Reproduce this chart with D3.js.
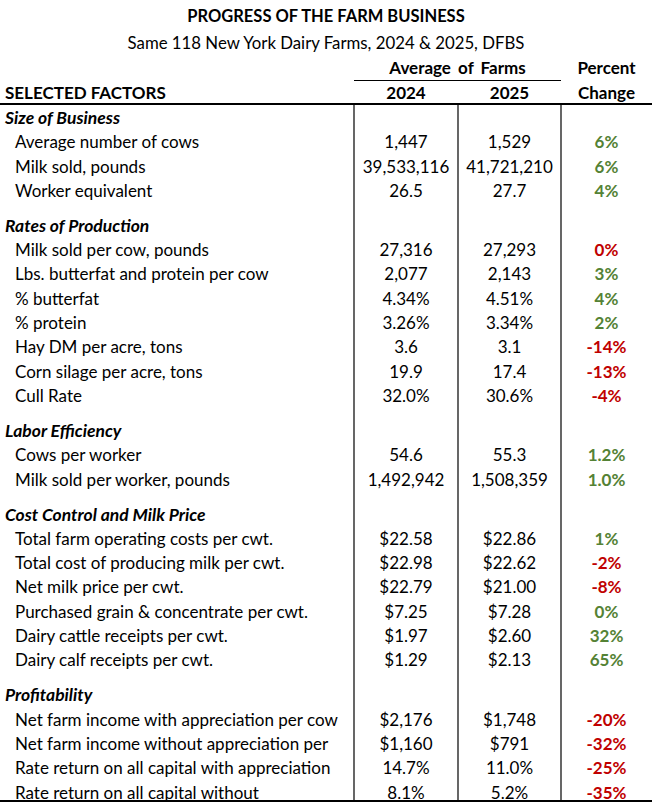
<!DOCTYPE html>
<html>
<head>
<meta charset="utf-8">
<script src="https://cdn.jsdelivr.net/npm/d3@7"></script>
<style>
  html, body { margin: 0; padding: 0; background: #fff; }
  svg { display: block; font-family: Lato, "Noto Sans", sans-serif; }
  .title { font-weight: 700; font-size: 16.5px; }
  .subtitle { font-size: 16.8px; }
  .head { font-weight: 700; font-size: 17px; }
  .section { font-weight: 700; font-style: italic; font-size: 17.5px; }
  .item { font-size: 17px; }
  .num { font-size: 17px; }
  .pct { font-weight: 700; font-size: 17px; }
</style>
</head>
<body>
<svg id="chart" width="652" height="805"></svg>
<script>
// --- Data ---
const title = 'PROGRESS OF THE FARM BUSINESS';
const subtitle = 'Same 118 New York Dairy Farms, 2024 & 2025, DFBS';
const years = ['2024', '2025'];

const sections = [
    'Size of Business',
    'Rates of Production',
    'Labor Efficiency',
    'Cost Control and Milk Price',
    'Profitability'
];

const factors = [
    'Average number of cows',
    'Milk sold, pounds',
    'Worker equivalent',
    'Milk sold per cow, pounds',
    'Lbs. butterfat and protein per cow',
    '% butterfat',
    '% protein',
    'Hay DM per acre, tons',
    'Corn silage per acre, tons',
    'Cull Rate',
    'Cows per worker',
    'Milk sold per worker, pounds',
    'Total farm operating costs per cwt.',
    'Total cost of producing milk per cwt.',
    'Net milk price per cwt.',
    'Purchased grain & concentrate per cwt.',
    'Dairy cattle receipts per cwt.',
    'Dairy calf receipts per cwt.',
    'Net farm income with appreciation per cow',
    'Net farm income without appreciation per',
    'Rate return on all capital with appreciation',
    'Rate return on all capital without'
];

const factorSection = [0, 0, 0, 1, 1, 1, 1, 1, 1, 1, 2, 2, 3, 3, 3, 3, 3, 3, 4, 4, 4, 4];

const values2024 = [
    '1,447', '39,533,116', '26.5',
    '27,316', '2,077', '4.34%', '3.26%', '3.6', '19.9', '32.0%',
    '54.6', '1,492,942',
    '$22.58', '$22.98', '$22.79', '$7.25', '$1.97', '$1.29',
    '$2,176', '$1,160', '14.7%', '8.1%'
];

const values2025 = [
    '1,529', '41,721,210', '27.7',
    '27,293', '2,143', '4.51%', '3.34%', '3.1', '17.4', '30.6%',
    '55.3', '1,508,359',
    '$22.86', '$22.62', '$21.00', '$7.28', '$2.60', '$2.13',
    '$1,748', '$791', '11.0%', '5.2%'
];

const pctChange = [
    '6%', '6%', '4%',
    '0%', '3%', '4%', '2%', '-14%', '-13%', '-4%',
    '1.2%', '1.0%',
    '1%', '-2%', '-8%', '0%', '32%', '65%',
    '-20%', '-32%', '-25%', '-35%'
];

// --- Layout ---
const W = 652, H = 805;
const colEdges = [0, 354, 458, 561, 652];
const GREEN = '#548235', RED = '#C00000';
const SECTION_GAP = 0.44;     // extra slot fraction before each new section

const svg = d3.select('#chart');

// Build row list: section header then its factors
const rows = [];
let gaps = 0;
sections.forEach((s, si) => {
    if (si > 0) gaps += SECTION_GAP;
    rows.push({ type: 'section', label: s, slot: rows.length + gaps });
    factors.forEach((f, i) => {
        if (factorSection[i] !== si) return;
        rows.push({
            type: 'item', label: f, slot: rows.length + gaps,
            v24: values2024[i], v25: values2025[i], pct: pctChange[i]
        });
    });
});

const toNum = s => +s.replace(/[$,%]/g, '');

const y = d3.scaleLinear()
    .domain([0, 1])
    .range([118, 118 + 24.3]);

const colCenter = i => (colEdges[i] + colEdges[i + 1]) / 2;

// --- Titles ---
svg.append('text').attr('class', 'title')
    .attr('x', W / 2).attr('y', 16).attr('dy', '0.35em')
    .attr('text-anchor', 'middle').text(title);

svg.append('text').attr('class', 'subtitle')
    .attr('x', W / 2).attr('y', 43).attr('dy', '0.35em')
    .attr('text-anchor', 'middle').text(subtitle);

// --- Column headers ---
const headG = svg.append('g');
headG.append('text').attr('class', 'head')
    .attr('x', (colEdges[1] + colEdges[3]) / 2).attr('y', 68).attr('dy', '0.35em')
    .attr('text-anchor', 'middle').attr('word-spacing', 3).text('Average of Farms');
headG.append('text').attr('class', 'head')
    .attr('x', colCenter(3)).attr('y', 68).attr('dy', '0.35em')
    .attr('text-anchor', 'middle').text('Percent');
headG.append('text').attr('class', 'head')
    .attr('x', 5).attr('y', 93).attr('dy', '0.35em')
    .text('SELECTED FACTORS');
years.forEach((yr, i) => {
    headG.append('text').attr('class', 'head')
        .attr('x', colCenter(i + 1)).attr('y', 93).attr('dy', '0.35em')
        .attr('text-anchor', 'middle').text(yr);
});
headG.append('text').attr('class', 'head')
    .attr('x', colCenter(3)).attr('y', 93).attr('dy', '0.35em')
    .attr('text-anchor', 'middle').text('Change');

// --- Rules ---
const lines = svg.append('g').attr('stroke', '#000');
lines.append('line')
    .attr('x1', colEdges[1]).attr('x2', colEdges[3])
    .attr('y1', 80.5).attr('y2', 80.5).attr('stroke-width', 1.2);
lines.append('line')
    .attr('x1', 0).attr('x2', W)
    .attr('y1', 104).attr('y2', 104).attr('stroke-width', 1.8);
lines.append('line')
    .attr('x1', 0).attr('x2', W)
    .attr('y1', 801).attr('y2', 801).attr('stroke-width', 1.8);
lines.selectAll('line.v')
    .data(colEdges.slice(1, 4))
    .join('line')
    .attr('class', 'v')
    .attr('x1', d => d).attr('x2', d => d)
    .attr('y1', 104).attr('y2', 801)
    .attr('stroke-width', 1.2);

// --- Body rows ---
const body = svg.append('g');

body.selectAll('text.section')
    .data(rows.filter(r => r.type === 'section'))
    .join('text')
    .attr('class', 'section')
    .attr('x', 5)
    .attr('y', d => y(d.slot))
    .attr('dy', '0.35em')
    .text(d => d.label);

const items = rows.filter(r => r.type === 'item');

body.selectAll('text.item-label')
    .data(items)
    .join('text')
    .attr('class', 'item item-label')
    .attr('x', 15)
    .attr('y', d => y(d.slot))
    .attr('dy', '0.35em')
    .text(d => d.label);

['v24', 'v25'].forEach((key, ci) => {
    body.selectAll(`text.${key}`)
        .data(items)
        .join('text')
        .attr('class', `num ${key}`)
        .attr('x', colCenter(ci + 1))
        .attr('y', d => y(d.slot))
        .attr('dy', '0.35em')
        .attr('text-anchor', 'middle')
        .text(d => d[key]);
});

body.selectAll('text.pct')
    .data(items)
    .join('text')
    .attr('class', 'pct')
    .attr('x', colCenter(3))
    .attr('y', d => y(d.slot))
    .attr('dy', '0.35em')
    .attr('text-anchor', 'middle')
    .attr('fill', d => toNum(d.v25) >= toNum(d.v24) ? GREEN : RED)
    .text(d => d.pct);
</script>
</body>
</html>
